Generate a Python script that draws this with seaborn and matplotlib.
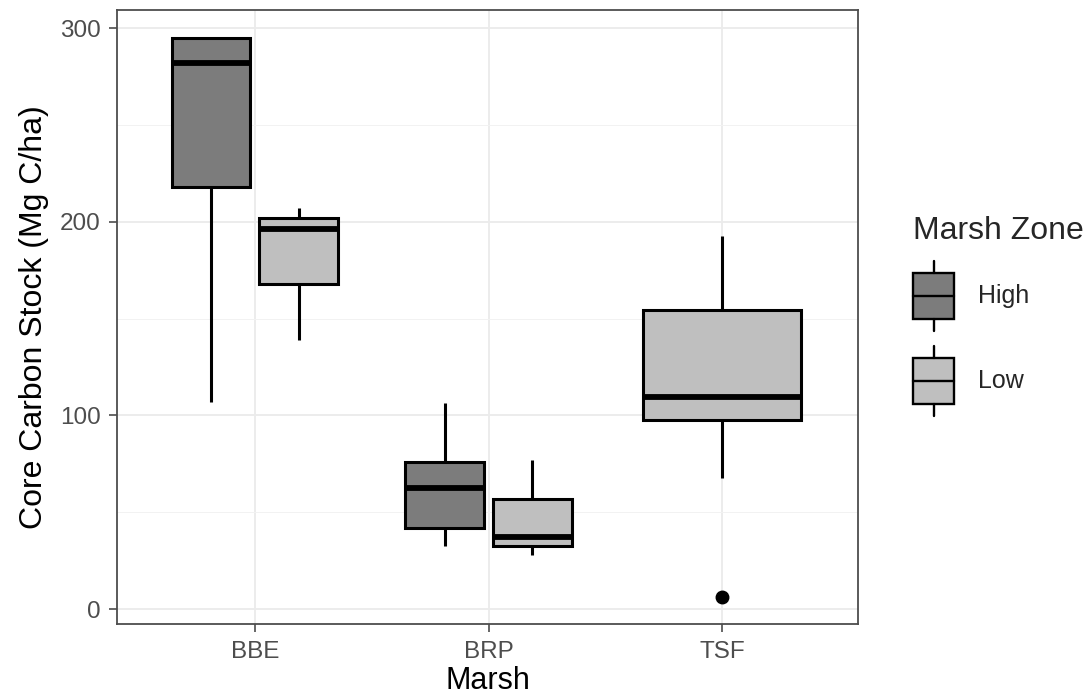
import numpy as np
import pandas as pd
import matplotlib
matplotlib.use("Agg")
import matplotlib.pyplot as plt
import seaborn as sns
from matplotlib.legend_handler import HandlerBase
from matplotlib.patches import Rectangle
from matplotlib.lines import Line2D

# ---- data ----
marshes = ["BBE", "BRP", "TSF"]
zones = ["High", "Low"]
bbe_high = [107, 218, 282, 295, 295]
bbe_low = [139, 168, 196, 202, 207]
brp_high = [32.5, 42, 62.5, 76, 106.5]
brp_low = [28, 32.5, 37, 57, 77]
tsf_low = [6, 67.6, 97.6, 103, 109.4, 130, 154.4, 170, 192.6]

zone_colors = {"High": "#7c7c7c", "Low": "#bfbfbf"}

rows = []
for m, z, vals in [("BBE", "High", bbe_high), ("BBE", "Low", bbe_low),
                   ("BRP", "High", brp_high), ("BRP", "Low", brp_low),
                   ("TSF", "Low", tsf_low)]:
    for v in vals:
        rows.append({"Marsh": m, "Zone": z, "Stock": v})
df = pd.DataFrame(rows)

sns.set_style("white")
plt.rcParams["font.family"] = ["Liberation Sans", "DejaVu Sans"]

fig = plt.figure(figsize=(10.91, 7.0), dpi=100)
ax = fig.add_axes([0.1072, 0.1086, 0.6792, 0.8771])

common = dict(linewidth=2.2, linecolor="black", saturation=1, showcaps=False,
              fliersize=9,
              flierprops=dict(marker="o", markerfacecolor="black", markeredgecolor="black"),
              medianprops=dict(linewidth=4.2, color="black"),
              ax=ax)

sns.boxplot(data=df[df["Marsh"] != "TSF"], x="Marsh", y="Stock", hue="Zone",
            order=marshes, hue_order=zones, palette=zone_colors,
            width=0.75, gap=0.1, legend=False, **common)
sns.boxplot(data=df[df["Marsh"] == "TSF"], x="Marsh", y="Stock",
            order=marshes, color=zone_colors["Low"], width=0.675, **common)

ax.set_xlim(-0.59, 2.58)
ax.set_ylim(-7.7, 309.3)
ax.set_yticks([0, 100, 200, 300])
ax.set_yticks([50, 150, 250], minor=True)
ax.set_axisbelow(True)
ax.grid(True, which="major", color="#ebebeb", linewidth=1.3)
ax.grid(True, which="minor", axis="y", color="#f2f2f2", linewidth=0.7)
for s in ax.spines.values():
    s.set_visible(True)
    s.set_color("#4d4d4d")
    s.set_linewidth(1.3)
ax.tick_params(axis="both", which="major", length=6, width=1.2, color="#4d4d4d",
               labelsize=17.5, labelcolor="#4d4d4d", direction="out",
               bottom=True, left=True)
ax.tick_params(axis="x", which="major", pad=6.5)
ax.tick_params(axis="y", which="major", pad=5.5)
ax.tick_params(axis="y", which="minor", length=0)
ax.set_xlabel("Marsh", fontsize=22, color="black", labelpad=2)
ax.set_ylabel("Core Carbon Stock (Mg C/ha)", fontsize=23, color="black", labelpad=8)


class BoxHandler(HandlerBase):
    def create_artists(self, legend, orig_handle, xdescent, ydescent, width, height,
                       fontsize, trans):
        fc = orig_handle.get_facecolor()
        x0, y0 = -xdescent, -ydescent
        cx = x0 + width / 2
        lo, hi = 0.165, 0.835
        box = Rectangle((x0, y0 + lo * height), width, (hi - lo) * height,
                        facecolor=fc, edgecolor="black", lw=1.7, transform=trans)
        med = Line2D([x0, x0 + width], [y0 + 0.5 * height] * 2, color="black",
                     lw=1.7, transform=trans)
        w1 = Line2D([cx, cx], [y0, y0 + lo * height], color="black", lw=1.7,
                    transform=trans)
        w2 = Line2D([cx, cx], [y0 + hi * height, y0 + height], color="black",
                    lw=1.7, transform=trans)
        return [box, med, w1, w2]


handles = [Rectangle((0, 0), 1, 1, facecolor=zone_colors[z]) for z in zones]
leg = fig.legend(handles, zones, title="Marsh Zone", loc="upper left",
                 bbox_to_anchor=(0.8369, 0.6914), frameon=False,
                 handler_map={Rectangle: BoxHandler()},
                 fontsize=18, title_fontsize=23,
                 handlelength=1.64, handleheight=3.93, labelspacing=0.6,
                 handletextpad=0.96, borderpad=0, borderaxespad=0)
leg._legend_box.align = "left"

fig.savefig("out.png", dpi=100)
